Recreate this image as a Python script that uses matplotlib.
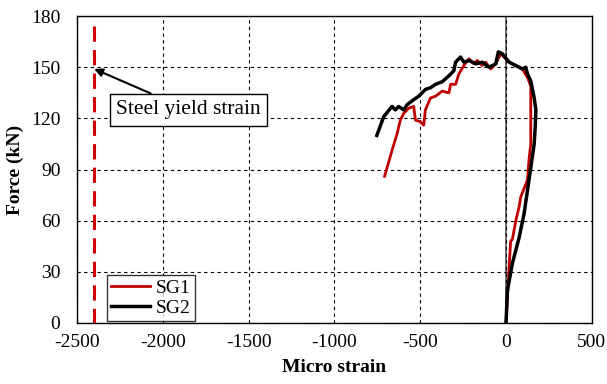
import numpy as np
import matplotlib.pyplot as plt

plt.rcParams['font.family'] = ['Liberation Serif', 'DejaVu Serif']
plt.rcParams['axes.unicode_minus'] = False

# SG1 (red) strain / force
sg1_strain = [0, 18, 27, 37, 57, 76, 86, 125, 134, 144, 144, 144, 144, 125, 95, 57, 18,
              -12, -31, -60, -89, -119, -139, -168, -187, -216, -246, -275, -294, -323,
              -333, -372, -411, -440, -470, -480, -499, -528, -538, -567, -596, -616,
              -635, -665, -708]
sg1_force = [0, 33, 48, 49, 60, 68, 74, 84, 96, 105, 125, 133, 139, 144, 149, 151, 153,
             156, 158, 152, 149, 153, 151, 154, 152, 155, 151, 146, 140, 140,
             135, 136, 133, 132, 125, 116, 118, 119, 127, 126, 123, 119,
             111, 101, 86]

# SG2 (black)
sg2_strain = [0, 8, 37, 76, 105, 134, 164, 170, 174, 164, 154, 144, 125, 115, 95, 57, 18,
              -22, -45, -60, -99, -139, -177, -216, -246, -265, -294, -304, -333, -372,
              -411, -440, -470, -509, -538, -577, -596, -626, -645, -665, -713, -753]
sg2_force = [0, 19, 35, 50, 64, 84, 105, 115, 125, 132, 137, 142, 146, 150, 149, 151, 153,
             158, 159, 152, 150, 153, 152, 154, 153, 156, 153, 148, 145, 141.5,
             140, 138, 137, 133, 131, 128, 125, 127, 125, 127, 121, 110]

yield_strain = -2400

fig = plt.figure(figsize=(6.07, 3.84), dpi=100)
ax = fig.add_axes([0.127, 0.159, 0.848, 0.799])

ax.axvline(0, color='#555555', lw=1.2, zorder=1)
ax.plot([yield_strain, yield_strain], [174, 0], color='#cc0000', lw=2.2,
        dashes=(5, 2.7), zorder=3)
ax.plot(sg1_strain, sg1_force, color='#c00000', lw=2, label='SG1', zorder=4)
ax.plot(sg2_strain, sg2_force, color='black', lw=2.5, label='SG2', zorder=5)

ax.annotate('Steel yield strain', xy=(yield_strain, 149), xytext=(-1850, 125),
            fontsize=15.5, ha='center', va='center',
            bbox=dict(boxstyle='square,pad=0.3', fc='white', ec='black', lw=1),
            arrowprops=dict(arrowstyle='-|>', color='black', lw=1.5, mutation_scale=12,
                            shrinkA=0, shrinkB=0))

ax.set_xlim(-2500, 500)
ax.set_ylim(0, 180)
ax.set_xticks(np.arange(-2500, 501, 500))
ax.set_yticks(np.arange(0, 181, 30))
ax.grid(True, color='black', linestyle=(0, (3, 3)), lw=0.8)
ax.tick_params(axis='y', labelsize=14, length=0, pad=12)
ax.tick_params(axis='x', labelsize=14, length=0, pad=8)
ax.set_xlabel('Micro strain', fontsize=14, fontweight='bold', labelpad=6)
ax.set_ylabel('Force (kN)', fontsize=14, fontweight='bold', labelpad=5)
for s in ax.spines.values():
    s.set_linewidth(1.0)

leg = ax.legend(loc='lower left', bbox_to_anchor=(0.055, 0.0), fontsize=14,
                frameon=True, fancybox=False, edgecolor='black', handlelength=2.0,
                borderpad=0.2, labelspacing=0.15, handletextpad=0.3, borderaxespad=0.1)
leg.get_frame().set_linewidth(1.0)

fig.savefig('out.png', dpi=100)
